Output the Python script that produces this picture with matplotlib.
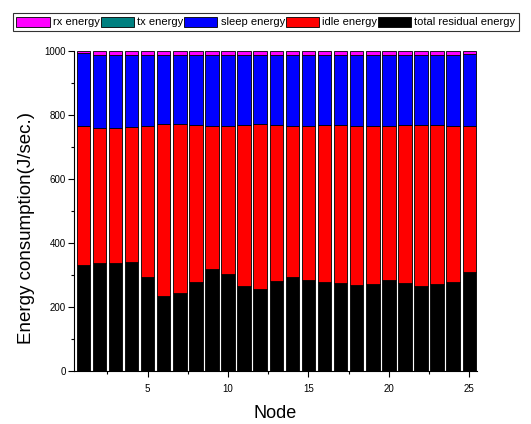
import matplotlib
matplotlib.use("Agg")
import matplotlib.pyplot as plt
from matplotlib.ticker import MultipleLocator
from matplotlib.patches import Patch

nodes = list(range(1, 26))
residual = [330, 336, 336, 340, 293, 234, 243, 278, 320, 303, 267, 255, 282,
            293, 284, 278, 276, 269, 272, 284, 276, 266, 272, 278, 309]
idle_top = [767, 760, 760, 762, 767, 773, 771, 768, 765, 765, 770, 771, 768,
            765, 767, 768, 768, 767, 767, 767, 768, 770, 768, 767, 767]
sleep_top = [993, 986, 986, 986, 986, 986, 986, 986, 986, 986, 986, 986, 986,
             986, 986, 986, 986, 986, 986, 986, 986, 986, 986, 986, 990]
tx_e = [2] * 25
total = [1000] * 25

idle = [t - r for t, r in zip(idle_top, residual)]
sleep = [s - t for s, t in zip(sleep_top, idle_top)]
rx = [tot - s - tx for tot, s, tx in zip(total, sleep_top, tx_e)]

plt.rcParams['font.family'] = ['Liberation Sans', 'DejaVu Sans']

fig = plt.figure(figsize=(5.31, 4.24), dpi=100)
ax = fig.add_axes([74/531, 1-371/424, (477-74)/531, (371-51)/424])

w = 0.84
ek = dict(edgecolor='black', linewidth=0.6)
ax.bar(nodes, residual, w, color='black', **ek)
ax.bar(nodes, idle, w, bottom=residual, color='#ff0000', **ek)
ax.bar(nodes, sleep, w, bottom=idle_top, color='#0000ff', **ek)
ax.bar(nodes, tx_e, w, bottom=sleep_top, color='#008080', **ek)
ax.bar(nodes, rx, w, bottom=[s + t for s, t in zip(sleep_top, tx_e)], color='#ff00ff', **ek)

ax.set_xlim(0.42, 25.48)
ax.set_ylim(0, 1000)
ax.spines['top'].set_visible(False)
ax.spines['right'].set_visible(False)
ax.xaxis.set_major_locator(MultipleLocator(5))
ax.xaxis.set_minor_locator(MultipleLocator(2.5))
ax.yaxis.set_major_locator(MultipleLocator(200))
ax.yaxis.set_minor_locator(MultipleLocator(100))
ax.tick_params(which='major', length=4, width=0.8, labelsize=7, direction='out')
ax.tick_params(which='minor', length=2.5, width=0.8, direction='out')
ax.tick_params(axis='x', pad=5)
ax.tick_params(axis='y', pad=2)

ax.set_xlabel('Node', fontsize=13, labelpad=8)
ax.set_ylabel('Energy consumption(J/sec.)', fontsize=13.5)
ax.yaxis.set_label_coords(-0.097, 0.448)

handles = [Patch(facecolor='#ff00ff', edgecolor='black', linewidth=0.6, label='rx energy'),
           Patch(facecolor='#008080', edgecolor='black', linewidth=0.6, label='tx energy'),
           Patch(facecolor='#0000ff', edgecolor='black', linewidth=0.6, label='sleep energy'),
           Patch(facecolor='#ff0000', edgecolor='black', linewidth=0.6, label='idle energy'),
           Patch(facecolor='black', edgecolor='black', linewidth=0.6, label='total residual energy')]
leg = fig.legend(handles=handles, ncol=5, loc='center', bbox_to_anchor=(266/531, 1-22/424),
                 fontsize=8, frameon=True, fancybox=False, edgecolor='black',
                 handlelength=3.0, handleheight=1.0, handletextpad=0.3, columnspacing=0.05,
                 borderpad=0.35, borderaxespad=0)
leg.get_frame().set_linewidth(0.8)

fig.savefig('out.png', dpi=100)
